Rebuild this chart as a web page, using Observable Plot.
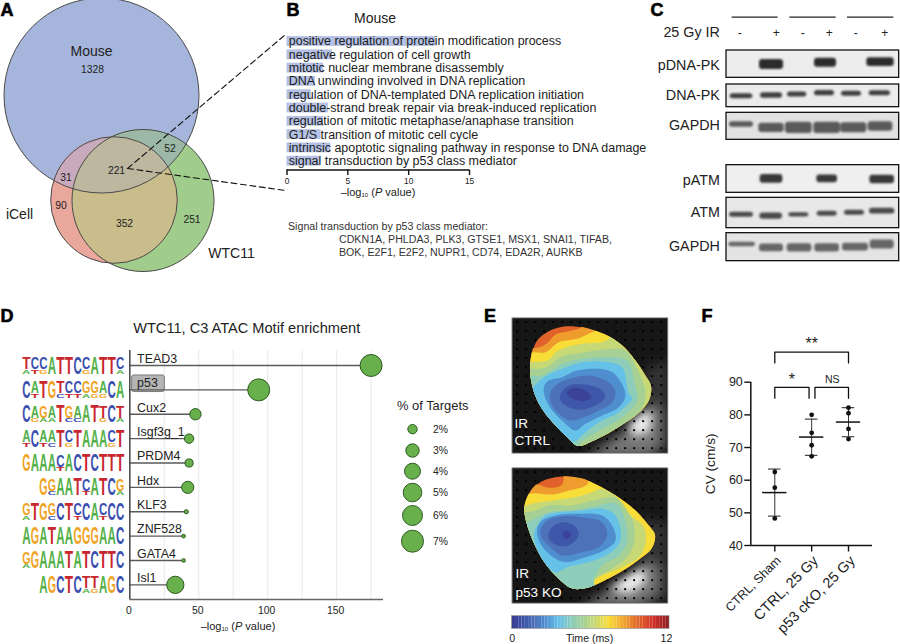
<!DOCTYPE html>
<html><head><meta charset="utf-8">
<script src="https://cdn.jsdelivr.net/npm/d3@7"></script>
<script src="https://cdn.jsdelivr.net/npm/@observablehq/plot@0.6"></script>
<style>
html,body{margin:0;padding:0;background:#fff;overflow:hidden}
#page{position:relative;width:900px;height:644px;overflow:hidden;font-family:"Liberation Sans",Arial,sans-serif;color:#222}
.lb{position:absolute;white-space:nowrap;line-height:1}
.lb sub{font-size:.55em;vertical-align:-.25em;line-height:0}
</style></head><body><div id="page"></div>
<script>
// ---------- A: Venn
const vennNames = ["Mouse","iCell","WTC11"];
const vennX = [101,113.5,142.5], vennY = [95,199.5,200], vennR = [97.5,63.3,71];
const vennFill = ["#a6b5dc","#eaa79b","#a0cd8b"];
const vennCounts = [1328,31,90,221,52,352,251];
const vennCountX = [92,65.5,60.5,116,169.5,124,191.5], vennCountY = [69.5,177,205,170,148,223,219];
const vennLabelX = [91,19,231], vennLabelY = [51.5,214.5,253];
const overlapFill = {mi:"#c9aabd", mw:"#9cb8a6", iw:"#c9bd8b", miw:"#bdb7a0"};
// ---------- B
const terms = ["positive regulation of protein modification process","negative regulation of cell growth","mitotic nuclear membrane disassembly","DNA unwinding involved in DNA replication","regulation of DNA-templated DNA replication initiation","double-strand break repair via break-induced replication","regulation of mitotic metaphase/anaphase transition","G1/S transition of mitotic cell cycle","intrinsic apoptotic signaling pathway in response to DNA damage","signal transduction by p53 class mediator"];
const termValues = [12.25,3.75,3.0,2.35,2.0,3.4,3.0,2.8,3.6,2.75];
const pTicks = [0,5,10,15];
// ---------- C
const blotNames = ["pDNA-PK","DNA-PK","GAPDH","pATM","ATM","GAPDH"];
const blotLabelY = [195,285,376,540,637,738];
const blotTop = [150,252,337,494,592,698], blotBottom = [232,320,418,577,683,782];
const blotBg = ["#ededed","#ececec","#e2e2e2","#efefef","#e8e8e8","#e4e4e4"];
const bandInk = ["#2c2c2c","#3f3f3f","#5a5a5a","#383838","#4a4a4a","#666666"];
const bandX = [[423,585,750],[333,423,500,582,663,748],[333,423,505,590,670,750],[423,590,755],[333,422,505,590,672,755],[335,423,507,590,675,755]];
const bandW = [[72,66,82],[68,66,58,60,60,64],[72,76,80,80,78,74],[68,62,74],[72,68,60,60,60,76],[80,72,74,74,78,72]];
const bandY = [[192,187,185],[287,285,282,278,280,278],[372,382,382,382,382,378],[535,535,537],[643,647,643,640,637,632],[732,742,742,742,740,732]];
const bandH = [[30,27,26],[15,17,15,16,15,15],[16,28,34,34,30,28],[26,23,25],[15,19,13,15,15,17],[13,23,25,25,23,27]];
const irMarks = ["-","+","-","+","-","+"], irX = [328,437,517,596,676,763];
const irGroups = [[305,443],[478,617],[651,790]];
// ---------- D
const motifs = ["TEAD3","p53","Cux2","Isgf3g_1","PRDM4","Hdx","KLF3","ZNF528","GATA4","Isl1"];
const motifLog = [175,93.5,47.6,43,43,42,41,39,39,33];
const motifPct = [7,7,2.5,2,1.6,2.7,0.35,0.2,0.2,4.5];
const pctLegend = [2,3,4,5,6,7];
const pctLegendRow = [13.7,35,55.7,77,100,125.7];
const logoTop = ["TCCATTCCATTC","CATGTCCGGACA","CAGATGAATTCT","ACAATCTAAACT","GAAACACTCTTT","GGAATCATCG","GTGGCTCCACCC","AGATAAGGGAAC","GGAAATATCTTC","AGCTCTTAGC"];
const logoSub = ["ATG....G...A",".T..CTTAGG..",".GAA.CC..G.A","T.TC.G....G.","....T.......",".C...T...A","A..C..T..T..","............","A...........",".....AG..."];
const logoColor = {A:"#55b04a",C:"#3a4fb0",G:"#f0a426",T:"#c9272e"};
const logoGlyph = {A:.722,C:.722,G:.778,T:.611};
// ---------- E
const timeLevels = [0,1,1.8,2.6,3.6,4.6,5.5,6.3,7.4,8.7,9.7,10.8,12];
const timeColors = ["#393a92","#3f57a8","#4e72b9","#4f8fd0","#66c1e9","#8dcdb9","#a6d094","#c7d977","#f8dc38","#ee9c2e","#e0622a","#d2302a","#8c1f22"];
const outlineA = [[95,90],[130,62],[175,48],[225,50],[265,60],[310,78],[350,105],[390,150],[420,195],[438,228],[432,270],[400,310],[350,345],[310,370],[265,392],[218,408],[190,385],[150,345],[110,295],[85,240],[75,180],[80,130]];
const isoA = [
 [8.7,[[40,118],[95,112],[125,98],[150,72],[190,62],[225,52],[240,30],[500,30],[500,440],[40,440]]],
 [7.4,[[40,128],[85,125],[120,125],[160,95],[215,85],[250,70],[275,58],[290,30],[500,30],[500,440],[40,440]]],
 [6.3,[[40,155],[75,155],[125,150],[160,120],[230,100],[290,95],[310,85],[320,60],[500,60],[500,440],[40,440]]],
 [5.5,[[40,175],[75,175],[120,172],[165,140],[240,125],[320,115],[360,120],[400,185],[420,250],[405,300],[350,345],[300,372],[240,420],[40,440]]],
 [4.6,[[40,195],[72,195],[110,195],[170,160],[230,145],[320,140],[365,150],[390,230],[395,270],[350,320],[300,350],[220,400],[200,440],[40,440]]],
 [3.6,[[85,228],[115,200],[170,175],[230,155],[310,155],[350,170],[370,250],[380,262],[340,305],[290,330],[240,365],[210,392],[170,400],[100,330],[60,260]]],
 [2.6,[[115,230],[130,210],[170,200],[215,180],[310,180],[340,205],[360,255],[340,290],[290,315],[240,340],[210,360],[175,335],[140,300],[120,265]]],
 [1.8,[[133,250],[150,225],[190,205],[250,195],[310,215],[330,245],[320,275],[280,300],[235,320],[195,330],[155,305],[135,275]]],
 [1,[[165,250],[190,225],[240,222],[290,240],[298,262],[270,285],[225,298],[190,290],[165,270]]],
 [0.3,[[185,245],[205,232],[235,238],[258,262],[235,272],[210,268],[190,258]]]
];
const outlineB = [[100,68],[130,55],[170,48],[230,55],[270,72],[330,105],[390,150],[430,195],[450,225],[440,265],[400,300],[340,340],[285,368],[240,385],[200,385],[165,360],[120,310],[85,245],[65,190],[58,140],[75,95]];
const isoB = [
 [8.7,[[30,70],[95,72],[130,82],[170,72],[182,30],[500,30],[500,440],[30,440]]],
 [7.4,[[30,100],[70,100],[90,98],[140,102],[190,90],[245,72],[255,30],[500,30],[500,440],[30,440]]],
 [6.3,[[30,135],[60,135],[85,128],[140,120],[200,112],[260,95],[290,85],[330,105],[370,160],[415,200],[420,250],[400,290],[350,320],[280,350],[265,365],[290,400],[30,440]]],
 [5.5,[[30,155],[60,155],[90,150],[130,135],[200,135],[270,118],[330,112],[365,150],[385,190],[385,250],[360,295],[310,330],[265,360],[270,400],[30,440]]],
 [4.6,[[30,185],[65,185],[90,172],[130,155],[200,150],[280,135],[330,128],[355,165],[365,245],[340,285],[290,315],[265,360],[270,400],[30,440]]],
 [3.6,[[95,195],[120,165],[160,155],[230,150],[290,145],[330,165],[345,240],[310,280],[250,305],[190,318],[150,335],[110,300],[85,225]]],
 [2.6,[[95,205],[110,180],[150,165],[210,160],[290,165],[320,195],[330,240],[295,270],[240,290],[180,305],[150,295],[120,270],[100,240]]],
 [1.8,[[105,210],[125,180],[165,168],[230,170],[290,185],[305,225],[280,260],[230,275],[170,285],[135,260],[110,235]]],
 [1,[[130,215],[145,195],[175,185],[205,195],[220,220],[205,245],[175,258],[145,250],[130,235]]],
 [0.3,[[170,222],[183,210],[198,222],[183,236]]]
];
const glowA = [[240,440],[300,400],[380,345],[425,300],[445,270],[470,300],[470,400],[430,440]];
const hotA = [[370,345],[420,300],[440,310],[430,365],[380,375]];
const hazeA = [[420,170],[490,150],[490,420],[420,420]];
const glowB = [[220,440],[300,395],[380,345],[430,295],[465,320],[460,400],[400,440]];
const hotB = [[310,385],[385,335],[420,325],[420,365],[370,400]];
const hazeB = [[400,170],[490,190],[490,420],[400,420]];
const mapLabelsA = ["IR","CTRL"], mapLabelsB = ["IR","p53 KO"];
// ---------- F
const groups = ["CTRL, Sham","CTRL, 25 Gy","p53 cKO, 25 Gy"];
const groupFont = [12.5,14.4,14.4];
const cvTicks = [40,50,60,70,80,90];
const cvPoints = [[62.5,57.7,48.3],[80,74.5,70.7,67.3],[82.2,80.5,75.7,72.6]];
const cvMean = [56.2,73.2,77.8], cvHi = [63.4,78.7,82.2], cvLo = [49,67.6,73.3];
const brackets = [[1,3,99.2,95.9,"**",2,101.6,16,"bold"],[1,1.93,88.4,85.1,"*",1.46,90.6,16,"bold"],[2.09,3,88.4,85.1,"NS",2.56,90.9,10.5,"normal"]];

// ---------- helpers
const page = document.getElementById("page");
const FONT = '"Liberation Sans",Arial,sans-serif';
function place(opts,left,top){
  const {style,x,y,...rest}=opts;
  const svg = Plot.plot({marginTop:0,marginRight:0,marginBottom:0,marginLeft:0,
    x:{axis:null,...(x||{})},y:{axis:null,...(y||{})},...rest,
    style:{position:"absolute",left:left+"px",top:top+"px",overflow:"visible",background:"transparent",fontFamily:FONT,fontSize:"11px",color:"#222",...(style||{})}});
  page.appendChild(svg); return svg;
}
function label(html,x,y,css=""){
  const d=document.createElement("div"); d.className="lb"; d.innerHTML=html;
  d.style.cssText=`left:${x}px;top:${y}px;transform:translate(-50%,-50%);${css}`; page.appendChild(d);
}
function labelL(html,x,y,css=""){label(html,x,y,"transform:translateY(-50%);"+css);}
let clipN=0;
const NS="http://www.w3.org/2000/svg";
function clipCircles(list){ return function(index,scales,values,dim,ctx,next){
  let el=next(index,scales,values,dim,ctx);
  for(const k of list){
    const id="cc"+(++clipN); const cp=document.createElementNS(NS,"clipPath"); cp.setAttribute("id",id);
    const c=document.createElementNS(NS,"circle");
    c.setAttribute("cx",scales.x(vennX[k]));c.setAttribute("cy",scales.y(vennY[k]));c.setAttribute("r",vennR[k]);
    cp.appendChild(c);
    const w=document.createElementNS(NS,"g"); w.setAttribute("clip-path",`url(#${id})`); w.appendChild(cp); w.appendChild(el); el=w;
  } return el; };}
function clipPoly(pts,smooth){ return function(index,scales,values,dim,ctx,next){
  const el=next(index,scales,values,dim,ctx);
  const id="cp"+(++clipN); const cp=document.createElementNS(NS,"clipPath"); cp.setAttribute("id",id);
  const p=document.createElementNS(NS,"path");
  const gen=d3.line().x(q=>scales.x(q[0])).y(q=>scales.y(q[1])).curve(smooth?d3.curveCatmullRomClosed:d3.curveLinearClosed);
  p.setAttribute("d",gen(pts));
  cp.appendChild(p);
  const w=document.createElementNS(NS,"g"); w.setAttribute("clip-path",`url(#${id})`); w.appendChild(cp); w.appendChild(el); return w; };}

// ---------- panel letters
[["A",7,10],["B",293,10],["C",657,10],["D",7,316],["E",490,316],["F",707,316]].forEach(([t,x,y])=>
  label(t,x,y,"font-weight:bold;font-size:18px;color:#000;-webkit-text-stroke:.6px #000"));

// ---------- Panel A
const vennSolid=[0,2,1];
const vennCircle=(k,fill,list)=>Plot.dot([k],{x:i=>vennX[i],y:i=>vennY[i],r:vennR[k],fill,stroke:"none",render:clipCircles(list)});
place({width:285,height:290,x:{domain:[0,285],range:[0,285]},y:{domain:[0,290],range:[0,290]},marks:[
  ...vennSolid.map(k=>Plot.dot([k],{x:i=>vennX[i],y:i=>vennY[i],r:vennR[k],fill:vennFill[k],stroke:"none"})),
  vennCircle(1,overlapFill.iw,[2]),
  vennCircle(0,overlapFill.mw,[2]),
  vennCircle(0,overlapFill.mi,[1]),
  vennCircle(0,overlapFill.miw,[1,2]),
  ...[0,1,2].map(k=>Plot.dot([k],{x:i=>vennX[i],y:i=>vennY[i],r:vennR[k],fill:"none",stroke:"#4a4a4a",strokeWidth:1})),
  Plot.text(vennCounts,{x:(d,i)=>vennCountX[i],y:(d,i)=>vennCountY[i],text:d=>String(d),fontSize:10.3,fill:"#222"}),
  Plot.text(vennNames,{x:(d,i)=>vennLabelX[i],y:(d,i)=>vennLabelY[i],text:d=>d,fontSize:14,fill:"#222"}),
  Plot.line([[127,168],[285,34]],{x:"0",y:"1",stroke:"#111",strokeWidth:1.1,strokeDasharray:"6,3.5"}),
  Plot.line([[127,168],[285,190]],{x:"0",y:"1",stroke:"#111",strokeWidth:1.1,strokeDasharray:"6,3.5"})
]},0,0);

// ---------- Panel B
const termRows=terms.map((t,i)=>({t,i,v:termValues[i]}));
const bX={domain:[0,15],range:[16.5,199]};
place({width:370,height:190,x:bX,y:{domain:[0,9],range:[41,160.7]},marks:[
  Plot.rect(termRows,{x1:0,x2:"v",y1:d=>d.i-.37,y2:d=>d.i+.37,fill:"#b4c1e4"}),
  Plot.text(termRows,{y:"i",x:0,dx:1.8,text:"t",textAnchor:"start",fontSize:12.45,fill:"#1c1c1c"})
]},270,0);
place({width:370,height:190,x:bX,y:{domain:[0,1],range:[169.5,175]},marks:[
  Plot.ruleY([0],{x1:0,x2:15,stroke:"#111",strokeWidth:1.6}),
  Plot.ruleX(pTicks,{y1:0,y2:1,stroke:"#111",strokeWidth:1.4}),
  Plot.text(pTicks,{x:d=>d,y:1,dy:5.5,text:d=>String(d),fontSize:8.3,fill:"#222"})
]},270,0);
label("Mouse",375,18,"font-size:14px");
label("–log<sub>10</sub> (<i>P</i> value)",378,192,"font-size:11px");
labelL("Signal transduction by p53 class mediator:",288,226,"font-size:10.65px;color:#333");
labelL("CDKN1A, PHLDA3, PLK3, GTSE1, MSX1, SNAI1, TIFAB,",339,238.7,"font-size:10.65px;color:#333");
labelL("BOK, E2F1, E2F2, NUPR1, CD74, EDA2R, AURKB",339,251.7,"font-size:10.65px;color:#333");

// ---------- Panel C
const blotIdx=blotNames.map((_,i)=>i);
const bands=blotIdx.flatMap(b=>bandX[b].map((x,i)=>({b,x,w:bandW[b][i],y:bandY[b][i],h:bandH[b][i]})));
place({width:270,height:280,x:{domain:[0,810],range:[0,270]},y:{domain:[0,840],range:[0,280]},marks:[
  Plot.rect(blotIdx,{x1:288,x2:806,y1:i=>blotTop[i],y2:i=>blotBottom[i],fill:i=>blotBg[i]}),
  Plot.rect(bands,{x1:d=>d.x-d.w/2,x2:d=>d.x+d.w/2,y1:d=>d.y-d.h/2,y2:d=>d.y+d.h/2,fill:d=>bandInk[d.b],rx:3,imageFilter:"blur(1.3px)"}),
  Plot.rect(blotIdx,{x1:288,x2:806,y1:i=>blotTop[i],y2:i=>blotBottom[i],fill:"none",stroke:"#111",strokeWidth:1.3}),
  Plot.text(blotIdx,{x:268,y:i=>blotLabelY[i],text:i=>blotNames[i],textAnchor:"end",fontSize:14.3,fill:"#222"}),
  Plot.text(["25 Gy IR"],{x:268,y:97,text:d=>d,textAnchor:"end",fontSize:14.3,fill:"#222"}),
  Plot.text(irMarks,{x:(d,i)=>irX[i],y:97,text:d=>d,fontSize:12,fill:"#222"}),
  Plot.ruleY(irGroups,{x1:"0",x2:"1",y:50,stroke:"#222",strokeWidth:1.2})
]},630,0);

// ---------- Panel D logos
const H=.677;
const letters=logoTop.flatMap((s,r)=>[...s].flatMap((c,i)=>{
  const off=12-s.length, sub=logoSub[r][i]; const out=[];
  if(sub&&sub!=="."){out.push({c:sub,r,p:i+off,base:r,h:H*.25});out.push({c,r,p:i+off,base:r-H*.27,h:H*.73});}
  else out.push({c,r,p:i+off,base:r,h:H});
  return out;}));
const logoFs=10;
function stretch(index,scales,values,dim,ctx,next){
  const g=next(index,scales,values,dim,ctx);
  const unit=Math.abs(scales.y(1)-scales.y(0)), step=Math.abs(scales.x(1)-scales.x(0));
  g.querySelectorAll("text").forEach((t,k)=>{const d=letters[index[k]];
    const sy=d.h*unit/(.716*logoFs), sx=step*.97/(logoGlyph[d.c]*logoFs);
    t.setAttribute("transform",t.getAttribute("transform")+` scale(${sx.toFixed(3)},${sy.toFixed(3)})`);});
  return g;
}
place({width:130,height:260,x:{domain:[0,12],range:[21.5,124]},y:{domain:[0,9],range:[23,242.3]},marks:[
  Plot.text(letters,{x:d=>d.p+.5,y:d=>d.base,text:d=>d.c,fill:d=>logoColor[d.c],fontSize:logoFs,fontWeight:"bold",lineAnchor:"bottom",render:stretch})
]},0,350);

// ---------- Panel D lollipop
const rows=motifs.map((m,i)=>({m,i,v:motifLog[i],p:motifPct[i]}));
const rScale={type:"linear",domain:[0,2,3,4,5,6,7],range:[1.5,4.7,6.7,8,9.3,10,11]};
place({width:300,height:300,
  x:{domain:[0,184],range:[29.3,283]},
  y:{domain:[-.615,9.6],range:[10,259]},
  r:rScale,
  marks:[
    Plot.ruleX(d3.range(25,176,25),{y1:-.615,y2:9.6,stroke:"#ececec",strokeWidth:1.2}),
    Plot.rect([0],{x1:1.7,x2:25.4,y1:.41,y2:1.09,fill:"#b5b5b5",stroke:"#7a7a7a",rx:2}),
    Plot.ruleY(rows,{x1:0,x2:"v",y:"i",stroke:"#5a5a5a",strokeWidth:1.4}),
    Plot.ruleX([0],{y1:-.615,y2:9.6,stroke:"#444",strokeWidth:1.5}),
    Plot.ruleY([9.6],{x1:0,x2:184,stroke:"#666",strokeWidth:1.5}),
    Plot.dot(rows,{x:"v",y:"i",r:"p",fill:"#67b04b",stroke:"#2f5a22",strokeWidth:1}),
    Plot.text(rows,{x:5.3,y:"i",dy:-6.7,text:"m",textAnchor:"start",fontSize:12.4,fill:"#222"}),
    Plot.text([0,50,100,150],{x:d=>d,y:9.6,dy:11,dx:-1,text:d=>String(d),fontSize:10.4,fill:"#222"})
  ]},100,340);
label("–log<sub>10</sub> (<i>P</i> value)",238,626,"font-size:11px");
label("WTC11, C3 ATAC Motif enrichment",246.7,328,"font-size:14.6px");
labelL("% of Targets",397,406,"font-size:12.9px");
place({width:70,height:140,
  x:{domain:[0,1],range:[12,13]},
  y:{domain:[0,140],range:[0,140]},
  r:rScale,
  marks:[
    Plot.dot(pctLegend,{x:0,y:(d,i)=>pctLegendRow[i],r:d=>d,fill:"#67b04b",stroke:"#2f5a22",strokeWidth:1}),
    Plot.text(pctLegend,{x:0,y:(d,i)=>pctLegendRow[i],dx:28,text:d=>d+"%",fontSize:10.4,fill:"#222"})
  ]},400,415);

// ---------- Panel E
const timeScale={type:"linear",domain:timeLevels,range:timeColors};
function heatMap(outline,iso,glow,hot,haze,labels,top,lx,ly){
  const grid=d3.cross(d3.range(35,485,27),d3.range(35,428,27));
  const polys=[{t:9.7,l:0,pts:outline},...iso.map(([t,pts],i)=>({t,l:i+1,pts}))].flatMap(p=>p.pts.map(q=>({x:q[0],y:q[1],t:p.t,l:p.l})));
  const sq=[[20,22],[487,22],[487,428],[20,428]];
  const xy={x:"0",y:"1",stroke:"none",curve:"linear-closed"};
  place({width:170,height:148,x:{domain:[0,510],range:[0,170]},y:{domain:[0,444],range:[0,148]},color:timeScale,marks:[
    Plot.line(sq,{...xy,fill:"#161616"}),
    Plot.line(haze,{...xy,fill:"#333",imageFilter:"blur(6px)",render:clipPoly(sq)}),
    Plot.line(glow,{...xy,fill:"#777",imageFilter:"blur(6px)",render:clipPoly(sq)}),
    Plot.line(hot,{...xy,fill:"#f4f4f4",imageFilter:"blur(5px)",render:clipPoly(sq)}),
    Plot.dot(grid,{x:"0",y:"1",r:1.1,fill:"#000",stroke:"none"}),
    Plot.line(polys,{x:"x",y:"y",z:"l",fill:"t",stroke:"none",curve:"catmull-rom-closed",render:clipPoly(outline,true)}),
    Plot.line(sq,{x:"0",y:"1",curve:"linear-closed",fill:"none",stroke:"#999",strokeWidth:.8}),
    Plot.text(labels,{x:lx,y:(d,i)=>ly[i],text:d=>d,textAnchor:"start",fill:"#fff",fontSize:13.6})
  ]},505,top);
}
heatMap(outlineA,isoA,glowA,hotA,hazeA,mapLabelsA,310,27,[340,391]);
heatMap(outlineB,isoB,glowB,hotB,hazeB,mapLabelsB,460,30,[340,395]);
const steps=d3.range(0,12,.25);
place({width:170,height:34,x:{domain:[0,12],range:[6.7,164]},y:{domain:[0,1],range:[18.3,5.7]},color:timeScale,marks:[
  Plot.rect(steps,{x1:d=>d,x2:d=>d+.25,y1:0,y2:1,fill:d=>d+.125}),
  Plot.rect([0],{x1:0,x2:12,y1:0,y2:1,fill:"none",stroke:"#888",strokeWidth:.6}),
  Plot.text(["0"],{x:0,y:0,dy:10,text:d=>d,fontSize:10.6,fill:"#222"}),
  Plot.text(["12"],{x:12,y:0,dy:10,dx:-3,text:d=>d,fontSize:10.6,fill:"#222"}),
  Plot.text(["Time (ms)"],{x:5.9,y:0,dy:9.7,text:d=>d,fontSize:10.6,fill:"#222"})
]},505,610);

// ---------- Panel F
const pts=cvPoints.flatMap((a,g)=>a.map(v=>({g:g+1,v})));
const grp=groups.map((name,i)=>({name,x:i+1,m:cvMean[i],hi:cvHi[i],lo:cvLo[i],fs:groupFont[i]}));
const brk=brackets.flatMap((b,k)=>[[b[0],b[3]],[b[0],b[2]],[b[1],b[2]],[b[1],b[3]]].map(([x,y])=>({k,x,y})));
const tickLenX=6/36.85, tickLenY=6.5/3.266;
place({width:200,height:319,
  x:{domain:[.349,3.651],range:[60.3,182]},
  y:{domain:[40,90],range:[220,56.7]},
  marks:[
    Plot.ruleX([.349],{y1:40,y2:90,stroke:"#111",strokeWidth:1.5}),
    Plot.ruleY([40],{x1:.349,x2:3.651,stroke:"#111",strokeWidth:1.5}),
    Plot.ruleX([1,2,3],{y1:40,y2:40-tickLenY,stroke:"#111",strokeWidth:1.4}),
    Plot.ruleY(cvTicks,{x1:.349-tickLenX,x2:.349,stroke:"#111",strokeWidth:1.4}),
    Plot.text(cvTicks,{x:.349,y:d=>d,dx:-8,text:d=>String(d),textAnchor:"end",fontSize:12.5,fill:"#222"}),
    Plot.text(["CV (cm/s)"],{x:-.745,y:65,rotate:-90,text:d=>d,fontSize:13.7,fill:"#222"}),
    Plot.ruleX(grp,{x:"x",y1:"lo",y2:"hi",stroke:"#333",strokeWidth:1}),
    Plot.ruleY(grp,{x1:d=>d.x-.17,x2:d=>d.x+.17,y:"hi",stroke:"#333",strokeWidth:1.1}),
    Plot.ruleY(grp,{x1:d=>d.x-.17,x2:d=>d.x+.17,y:"lo",stroke:"#333",strokeWidth:1.1}),
    Plot.ruleY(grp,{x1:d=>d.x-.33,x2:d=>d.x+.33,y:"m",stroke:"#111",strokeWidth:1.5}),
    Plot.dot(pts,{x:"g",y:"v",r:2.4,fill:"#111",stroke:"none"}),
    Plot.line(brk,{x:"x",y:"y",z:"k",stroke:"#111",strokeWidth:1.3}),
    Plot.text(brackets,{x:b=>b[5],y:b=>b[6],text:b=>b[4],fontSize:b=>b[7],fontWeight:b=>b[8],fill:"#222"}),
    Plot.text(grp,{x:"x",y:40,dx:4,dy:13,rotate:-45,textAnchor:"end",text:"name",fontSize:"fs",fill:"#222"})
  ]},690,325);
</script></body></html>
